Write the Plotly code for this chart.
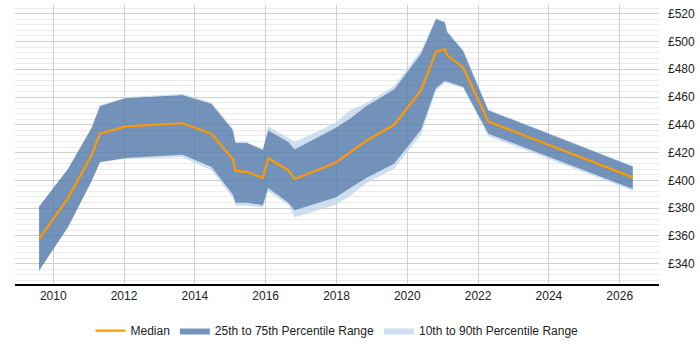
import plotly.graph_objects as go

years = [2009.60, 2010.42, 2011.08, 2011.32, 2012.05, 2013.65, 2014.47, 2015.07, 2015.15, 2015.46,
         2015.92, 2016.07, 2016.64, 2016.82, 2017.96, 2018.38, 2018.83, 2019.63, 2020.39, 2020.81,
         2021.06, 2021.13, 2021.58, 2022.29, 2026.37]
median = [357.8, 387.4, 417.8, 433.6, 438.8, 441.1, 433.6, 415.4, 406.8, 406.1,
          401.7, 415.9, 407.3, 401.0, 412.4, 420.1, 428.3, 440.0, 464.9, 492.5,
          494.3, 490.1, 481.3, 442.3, 402.1]
p25 = [334.9, 366.4, 399.1, 413.1, 416.1, 418.5, 409.6, 389.7, 383.9, 383.9,
       382.0, 394.4, 383.9, 378.5, 387.4, 394.4, 401.4, 411.9, 436.5, 466.3,
       471.5, 471.0, 467.3, 433.6, 393.7]
p75 = [381.1, 408.4, 437.6, 453.5, 459.3, 461.4, 455.1, 436.5, 427.1, 427.1,
       422.0, 436.0, 427.8, 422.4, 437.6, 444.6, 453.3, 465.6, 491.3, 516.3,
       513.9, 506.9, 493.2, 450.5, 410.0]
p10 = [334.9, 366.4, 399.1, 413.1, 415.6, 416.6, 407.3, 387.4, 381.6, 381.6,
       380.4, 392.1, 382.3, 373.4, 382.3, 388.6, 397.9, 408.4, 433.0, 464.5,
       470.3, 470.0, 466.3, 431.8, 392.5]
p90 = [381.1, 408.4, 437.6, 454.0, 459.8, 462.3, 456.0, 437.5, 427.8, 427.8,
       422.5, 439.0, 430.6, 427.6, 441.1, 450.5, 455.6, 468.0, 493.6, 517.0,
       514.5, 507.5, 494.0, 451.0, 410.5]
x_ticks = [2010, 2012, 2014, 2016, 2018, 2020, 2022, 2024, 2026]
y_ticks = [340, 360, 380, 400, 420, 440, 460, 480, 500, 520]
y_labels = ["£%d" % v for v in y_ticks]

LIGHT = "rgba(190,212,234,0.75)"
DARK = "rgba(80,120,170,0.8)"

fig = go.Figure()
fig.add_trace(go.Scatter(x=years, y=p10, mode="lines", line=dict(width=0), showlegend=False,
                         hoverinfo="skip"))
fig.add_trace(go.Scatter(x=years, y=p25, mode="lines", line=dict(width=0), fill="tonexty",
                         fillcolor=LIGHT, name="10th to 90th Percentile Range", legendrank=3))
fig.add_trace(go.Scatter(x=years, y=p75, mode="lines", line=dict(width=0), fill="tonexty",
                         fillcolor=DARK, name="25th to 75th Percentile Range", legendrank=2))
fig.add_trace(go.Scatter(x=years, y=p90, mode="lines", line=dict(width=0), fill="tonexty",
                         fillcolor=LIGHT, showlegend=False))
fig.add_trace(go.Scatter(x=years, y=median, mode="lines", line=dict(color="#FF9900", width=2.2),
                         name="Median", legendrank=1))

fig.update_layout(
    width=700, height=350,
    margin=dict(l=15, r=41, t=5, b=58),
    paper_bgcolor="white", plot_bgcolor="white",
    font=dict(family="Liberation Sans, Arial, sans-serif", size=12, color="#222"),
    legend=dict(orientation="h", x=0.5, xanchor="center", y=-0.115, yanchor="top",
                font=dict(size=12, color="#222"), itemwidth=30, traceorder="normal"),
    xaxis=dict(range=[2008.92, 2027.11], tickvals=x_ticks, ticktext=[str(v) for v in x_ticks],
               showgrid=True, gridcolor="#d0d0d0", gridwidth=1, zeroline=False,
               showline=True, linecolor="#000000", linewidth=1.5, ticks="", ticklen=0),
    yaxis=dict(range=[325.3, 526.3], side="right", tickvals=y_ticks, ticktext=y_labels,
               showgrid=True, gridcolor="#d0d0d0", gridwidth=1, zeroline=False,
               showline=False, ticks="", ticklabelstandoff=8,
               minor=dict(dtick=4, tick0=340, showgrid=True, gridcolor="#ececec", gridwidth=1)),
    showlegend=True,
)

fig.write_html("out.html")
